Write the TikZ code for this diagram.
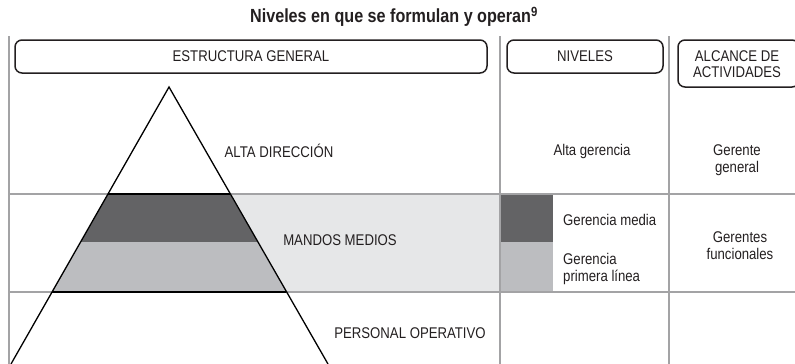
\documentclass[tikz,border=0pt]{standalone}
\usepackage{fontspec}
\setmainfont{Liberation Sans}[FakeStretch=0.85]
\definecolor{txt}{HTML}{231F20}
\definecolor{grid}{HTML}{A3A3A5}
\definecolor{darkband}{HTML}{636365}
\definecolor{lightband}{HTML}{BCBDC0}
\definecolor{bgband}{HTML}{E6E7E8}
\begin{document}
\begin{tikzpicture}[x=1pt,y=-1pt,
  lbl/.style={font=\fontsize{15.5}{17}\selectfont, text=txt, inner sep=0pt, align=center},
  lbll/.style={lbl, align=left, anchor=west},
  headbox/.style={draw=txt, line width=1.5pt, rounded corners=7pt},
  gridline/.style={draw=grid, line width=1.5pt},
  tri/.style={draw=black, line width=1.3pt}]
\useasboundingbox (0,0) rectangle (795,364);
% pyramid coordinates
\coordinate (apex) at (169,87);
\coordinate (bl) at (11,364);
\coordinate (br) at (328,364);
\coordinate (t1l) at (108,194);
\coordinate (t1r) at (230,194);
\coordinate (t2l) at (80.5,242);
\coordinate (t2r) at (257.5,242);
\coordinate (t3l) at (52,292);
\coordinate (t3r) at (286,292);
% background band (from the pyramid's right edge to the first column line)
\fill[bgband] (t1r) -- (499,194) -- (499,292) -- (t3r) -- cycle;
% niveles squares
\fill[darkband] (500,194) rectangle (553,242);
\fill[lightband] (500,242) rectangle (553,292);
% pyramid bands
\fill[darkband] (t1l) -- (t1r) -- (t2r) -- (t2l) -- cycle;
\fill[lightband] (t2l) -- (t2r) -- (t3r) -- (t3l) -- cycle;
% grid lines
\coordinate (v1t) at (9,36);   \coordinate (v1b) at (9,364);
\coordinate (v2t) at (500,36); \coordinate (v2b) at (500,364);
\coordinate (v3t) at (669,36); \coordinate (v3b) at (669,364);
\coordinate (h1l) at (9,194);  \coordinate (h1r) at (795,194);
\coordinate (h2l) at (9,292);  \coordinate (h2r) at (795,292);
\draw[gridline] (h1l) -- (h1r);
\draw[gridline] (h2l) -- (h2r);
\draw[gridline] (v1t) -- (v1b);
\draw[gridline] (v2t) -- (v2b);
\draw[gridline] (v3t) -- (v3b);
% pyramid outline
\draw[tri] (bl) -- (apex) -- (br);
\draw[tri] (t1l) -- (t1r);
\draw[tri] (t3l) -- (t3r);
% header boxes
\draw[headbox] (15,40) rectangle (487,73);
\draw[headbox] (507,40) rectangle (663,73);
\draw[headbox] (678,40) rectangle (799,87);
\node[lbl] (hEG) at (251,56.5) {ESTRUCTURA GENERAL};
\node[lbl] (hNI) at (585,56.5) {NIVELES};
\node[lbl, font=\fontsize{15.5}{16.5}\selectfont] (hAL) at (737,64) {ALCANCE DE\\ACTIVIDADES};
% title
\node[font=\fontsize{19}{20}\bfseries\selectfont, text=txt, inner sep=0pt] (title) at (394,17) {Niveles en que se formulan y operan\textsuperscript{9}};
% level labels
\node[lbl] (ad) at (279,151) {ALTA DIRECCIÓN};
\node[lbl] (mm) at (340,240) {MANDOS MEDIOS};
\node[lbl] (po) at (410,333) {PERSONAL OPERATIVO};
\node[lbl] (ag) at (592,151) {Alta gerencia};
\node[lbl] (gg) at (737,160) {Gerente\\general};
\node[lbll] (gm) at (563,220) {Gerencia media};
\node[lbll] (gp) at (563,268.5) {Gerencia\\primera línea};
\node[lbl] (gf) at (740,245.5) {Gerentes\\funcionales};
\end{tikzpicture}
\end{document}
